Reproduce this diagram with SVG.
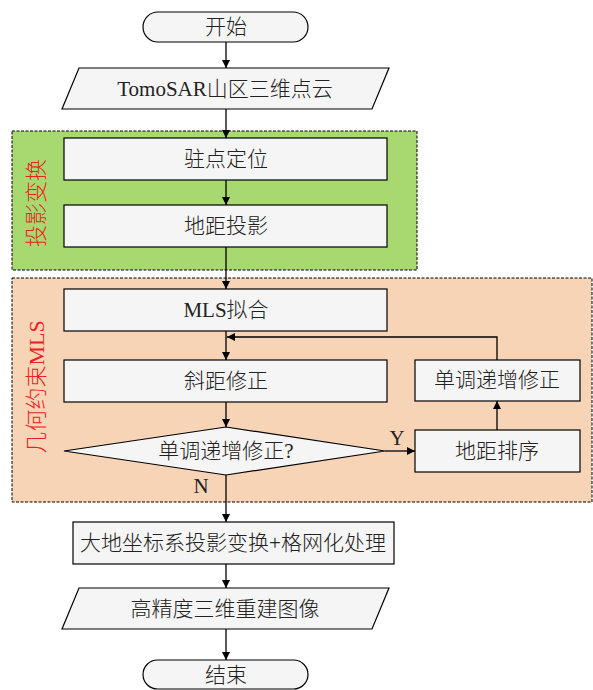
<svg xmlns="http://www.w3.org/2000/svg" width="593" height="690" viewBox="0 0 593 690">
<style>
.n{fill:#f5f5f5;stroke:#000;stroke-width:1.2}
.t{font-family:"Liberation Serif","Noto Sans CJK SC",serif;font-size:21px;font-weight:300;fill:#222;text-anchor:middle;dominant-baseline:central}
.r{font-family:"Liberation Serif","Noto Sans CJK SC",serif;font-size:22px;font-weight:300;fill:#e8231f;text-anchor:middle;dominant-baseline:central}
.c{fill:none;stroke:#000;stroke-width:1.3}
.g{stroke:#000;stroke-width:1;stroke-dasharray:3 1.5}
</style>
<defs>
<marker id="a" viewBox="0 0 10 10" refX="10" refY="5" markerWidth="8" markerHeight="8" markerUnits="userSpaceOnUse" orient="auto">
<path d="M0,0 L10,5 L0,10 z" fill="#000"/>
</marker>
</defs>
<g id="group-proj">
<rect class="g" x="12" y="131" width="405" height="139" fill="#a8d971"/>
<text class="r" transform="translate(36,203) rotate(-90)">投影变换</text>
</g>
<g id="group-mls">
<rect class="g" x="12" y="278" width="580" height="224" fill="#f7d4b6"/>
<text class="r" transform="translate(36,387) rotate(-90)">几何约束MLS</text>
</g>
<g id="start">
<rect class="n" x="143" y="12" width="165" height="30" rx="15"/>
<text class="t" x="226" y="27">开始</text>
</g>
<g id="input">
<polygon class="n" points="79,68 389,68 372,109 62,109"/>
<text class="t" x="225" y="89">TomoSAR山区三维点云</text>
</g>
<g id="zhudian">
<rect class="n" x="64" y="138" width="323" height="42"/>
<text class="t" x="226" y="159">驻点定位</text>
</g>
<g id="diju">
<rect class="n" x="64" y="205" width="323" height="42"/>
<text class="t" x="226" y="226">地距投影</text>
</g>
<g id="mlsfit">
<rect class="n" x="64" y="289" width="323" height="42"/>
<text class="t" x="226" y="310">MLS拟合</text>
</g>
<g id="xieju">
<rect class="n" x="64" y="360" width="323" height="42"/>
<text class="t" x="226" y="381">斜距修正</text>
</g>
<g id="decision">
<polygon class="n" points="226,427 385,451 226,475 64,451"/>
<text class="t" x="226" y="451">单调递增修正?</text>
</g>
<g id="sort">
<rect class="n" x="415" y="430" width="165" height="42"/>
<text class="t" x="497" y="451">地距排序</text>
</g>
<g id="mono">
<rect class="n" x="415" y="360" width="165" height="41"/>
<text class="t" x="497" y="380">单调递增修正</text>
</g>
<g id="geo">
<rect class="n" x="73" y="522" width="321" height="42"/>
<text class="t" x="233" y="543">大地坐标系投影变换+格网化处理</text>
</g>
<g id="output">
<polygon class="n" points="79,588 389,588 372,629 62,629"/>
<text class="t" x="225" y="609">高精度三维重建图像</text>
</g>
<g id="end">
<rect class="n" x="143" y="660" width="165" height="29" rx="14.5"/>
<text class="t" x="226" y="675">结束</text>
</g>
<g id="connectors">
<line class="c" x1="226" y1="42" x2="226" y2="68" marker-end="url(#a)"/>
<line class="c" x1="226" y1="109" x2="226" y2="138" marker-end="url(#a)"/>
<line class="c" x1="226" y1="180" x2="226" y2="205" marker-end="url(#a)"/>
<line class="c" x1="226" y1="247" x2="226" y2="289" marker-end="url(#a)"/>
<line class="c" x1="226" y1="331" x2="226" y2="360" marker-end="url(#a)"/>
<line class="c" x1="226" y1="402" x2="226" y2="427" marker-end="url(#a)"/>
<line class="c" x1="385" y1="451" x2="415" y2="451" marker-end="url(#a)"/>
<line class="c" x1="497" y1="430" x2="497" y2="401" marker-end="url(#a)"/>
<polyline class="c" points="497,360 497,337 227,337" marker-end="url(#a)"/>
<line class="c" x1="226" y1="475" x2="226" y2="522" marker-end="url(#a)"/>
<line class="c" x1="226" y1="564" x2="226" y2="588" marker-end="url(#a)"/>
<line class="c" x1="226" y1="629" x2="226" y2="660" marker-end="url(#a)"/>
<text class="t" x="397" y="438">Y</text>
<text class="t" x="201" y="486">N</text>
</g>
</svg>
